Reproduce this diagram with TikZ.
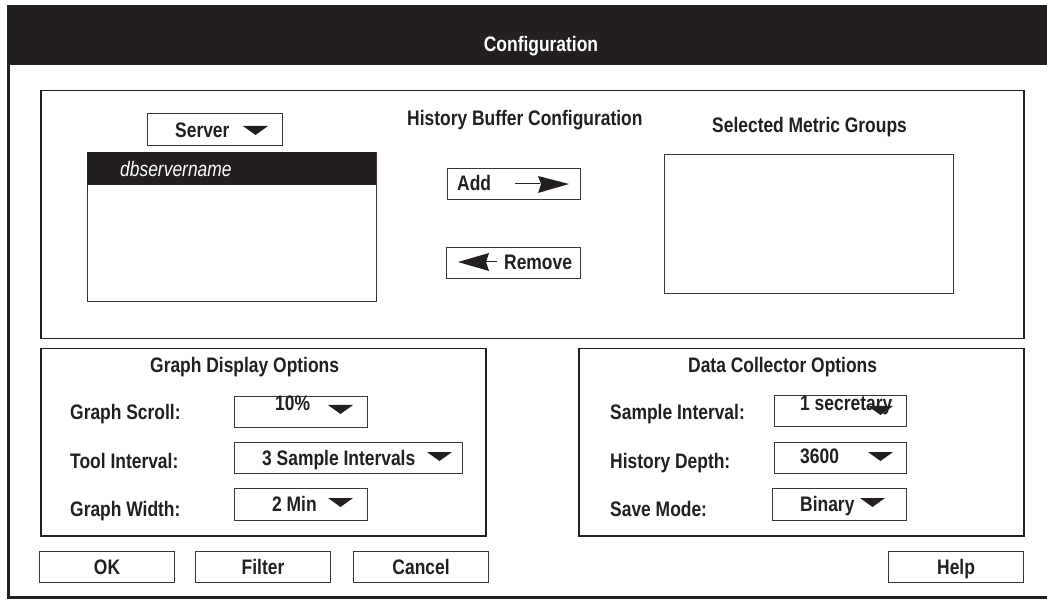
\documentclass[tikz,border=0pt]{standalone}
\usepackage{fontspec}
\setmainfont{Liberation Sans}[FakeStretch=0.83]
\definecolor{ink}{HTML}{231F20}
\definecolor{edge}{HTML}{3A3637}
\begin{document}
\begin{tikzpicture}[x=1pt,y=-1pt,
  lbl/.style={inner sep=0, font=\fontsize{21}{25}\selectfont\bfseries, text=ink},
  panel/.style={draw=ink, line width=1.5pt, anchor=north west, inner sep=0},
  field/.style={draw=edge, line width=1.1pt, fill=white, anchor=north west, inner sep=0},
  btn/.style={draw=edge, line width=1.1pt, anchor=north west, inner sep=0, minimum width=135, minimum height=31}]
\newcommand{\dtri}[2]{\fill[ink] (#1,#2) -- ++(25,0) -- ++(-12.5,9) -- cycle;}
\useasboundingbox (0,0) rectangle (1047,601);
\fill[white] (0,0) rectangle (1047,601);
% window frame
\node[fill=ink, anchor=north west, inner sep=0, minimum width=1040, minimum height=60] (bar) at (7,5) {};
\node[lbl, text=white, anchor=base] (title) at (541,52) {Configuration};
\coordinate (wl) at (8.5,65);
\coordinate (wbl) at (8.5,597);
\coordinate (wbr) at (1047,597);
\draw[ink, line width=3pt] (wl) -- (wbl) -- (wbr);
% top panel
\node[panel, minimum width=983, minimum height=248] (top) at (40,90) {};
\node[field, minimum width=135, minimum height=32] (server) at (147,113) {};
\node[lbl, anchor=base west] (servert) at (175,138) {Server};
\dtri{243}{126}
\node[field, minimum width=289, minimum height=149] (list) at (87,152) {};
\node[fill=ink, anchor=north west, inner sep=0, minimum width=289, minimum height=33] (sel) at (87,152) {};
\node[inner sep=0, anchor=base west, text=white, font=\fontsize{21}{25}\selectfont\itshape] (dbs) at (120,177) {dbservername};
\node[lbl, anchor=base west] (hbc) at (407,126) {History Buffer Configuration};
\node[lbl, anchor=base west] (smg) at (712,133) {Selected Metric Groups};
\node[field, minimum width=289, minimum height=139] (selbox) at (664,154) {};
% add / remove
\node[field, minimum width=133, minimum height=31] (add) at (447,168) {};
\node[lbl, anchor=base west] (addt) at (457,191) {Add};
\coordinate (a1) at (515,184);
\coordinate (a2) at (540,184);
\draw[ink, line width=1pt] (a1) -- (a2);
\fill[ink] (538,176) -- (569,184) -- (538,193) -- (541,184) -- cycle;
\node[field, minimum width=134, minimum height=31] (rem) at (446,247) {};
\node[lbl, anchor=base west] (remt) at (504,270) {Remove};
\coordinate (r1) at (486,262);
\coordinate (r2) at (497,262);
\draw[ink, line width=1pt] (r1) -- (r2);
\fill[ink] (489,253) -- (458,262) -- (489,271) -- (486,262) -- cycle;
% graph display options
\node[panel, minimum width=445, minimum height=187] (gdo) at (40,348) {};
\node[lbl, anchor=base west] (gdot) at (150,373) {Graph Display Options};
\node[lbl, anchor=base west] (gsl) at (70,420) {Graph Scroll:};
\node[lbl, anchor=base west] (til) at (70,468) {Tool Interval:};
\node[lbl, anchor=base west] (gwl) at (70,516) {Graph Width:};
\node[field, minimum width=133, minimum height=31] (gs) at (234,396) {};
\node[lbl, anchor=base west] (gst) at (275,410) {10\%};
\dtri{328}{405}
\node[field, minimum width=228, minimum height=31] (ti) at (234,442) {};
\node[lbl, anchor=base west] (tit) at (262,465) {3 Sample Intervals};
\dtri{427}{452}
\node[field, minimum width=133, minimum height=32] (gw) at (234,488) {};
\node[lbl, anchor=base west] (gwt) at (272,511) {2 Min};
\dtri{328}{498}
% data collector options
\node[panel, minimum width=445, minimum height=187] (dco) at (578,348) {};
\node[lbl, anchor=base west] (dcot) at (688,373) {Data Collector Options};
\node[lbl, anchor=base west] (sil) at (610,420) {Sample Interval:};
\node[lbl, anchor=base west] (hdl) at (610,468) {History Depth:};
\node[lbl, anchor=base west] (sml) at (610,516) {Save Mode:};
\node[field, minimum width=132, minimum height=31] (si) at (774,395) {};
\node[lbl, anchor=base west] (sit) at (800,410) {1 secretary};
\dtri{868}{406}
\node[field, minimum width=132, minimum height=31] (hd) at (774,442) {};
\node[lbl, anchor=base west] (hdt) at (800,464) {3600};
\dtri{868}{452}
\node[field, minimum width=134, minimum height=32] (sm) at (772,488) {};
\node[lbl, anchor=base west] (smt) at (800,511) {Binary};
\dtri{860}{498}
% buttons
\node[btn] (ok) at (39,551) {};
\node[lbl, anchor=base] (okt) at (ok.center |- 0,574) {OK};
\node[btn] (filter) at (195,551) {};
\node[lbl, anchor=base] (filtert) at (filter.center |- 0,574) {Filter};
\node[btn] (cancel) at (353,551) {};
\node[lbl, anchor=base] (cancelt) at (cancel.center |- 0,574) {Cancel};
\node[btn] (help) at (888,551) {};
\node[lbl, anchor=base] (helpt) at (help.center |- 0,574) {Help};
\end{tikzpicture}
\end{document}
